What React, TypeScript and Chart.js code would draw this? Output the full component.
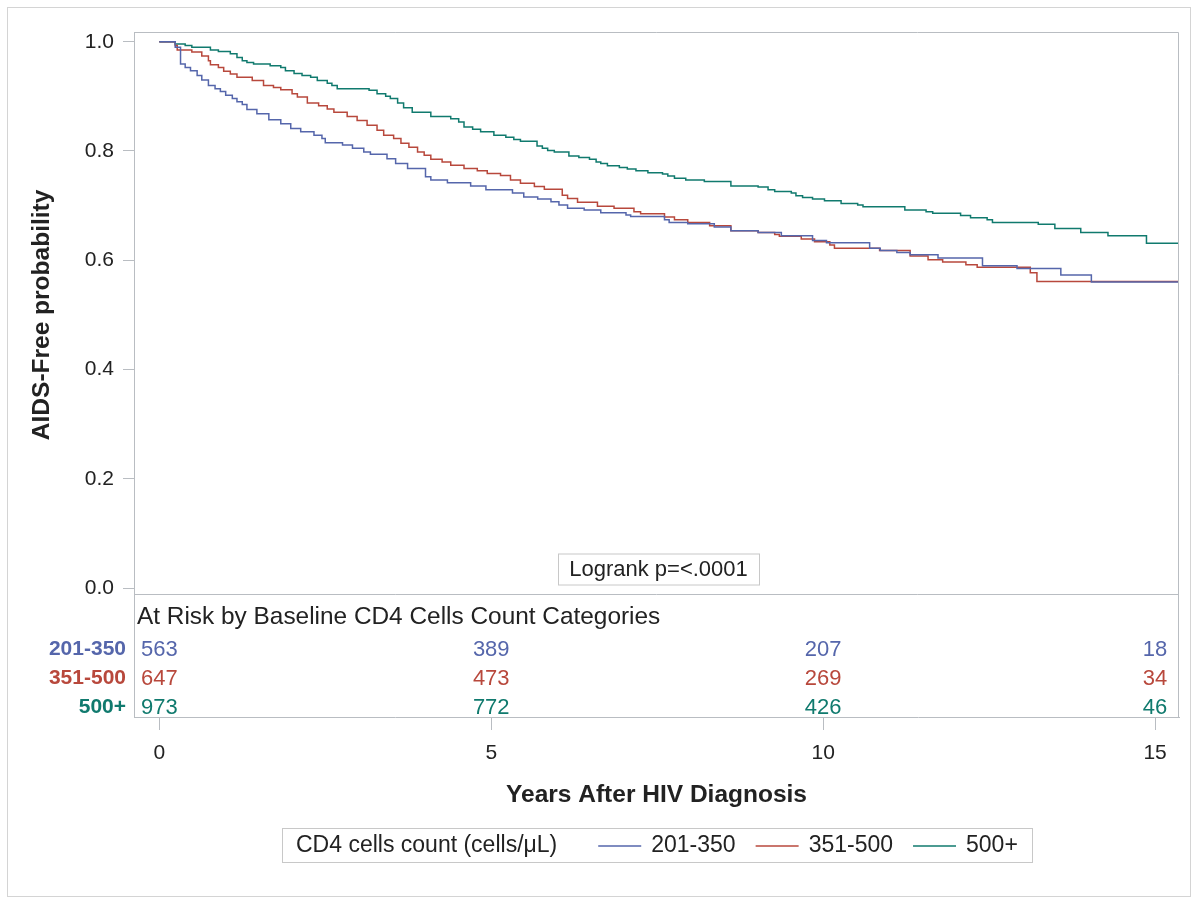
import React, { useEffect, useRef } from "react";
import { Chart, registerables } from "chart.js";

Chart.register(...registerables);

const FONT = "'Liberation Sans', Arial, Helvetica, sans-serif";
const FRAME = "#b9bdc2";
const TEXT = "#222222";

const groups = ["201-350", "351-500", "500+"];
const groupColors = ["#5566ab", "#b8483c", "#107a6e"];

// 201-350
const timesLow = [0, 0.24, 0.32, 0.39, 0.47, 0.57, 0.64, 0.74, 0.84, 0.92, 1.0, 1.1, 1.17, 1.25, 1.32, 1.47, 1.65, 1.83, 1.98, 2.13, 2.33, 2.45, 2.5, 2.76, 2.91, 3.08, 3.18, 3.43, 3.56, 3.74, 4.01, 4.09, 4.34, 4.69, 4.92, 5.32, 5.49, 5.7, 5.9, 6.02, 6.15, 6.4, 6.65, 7.03, 7.1, 7.61, 7.68, 7.96, 8.36, 8.61, 9.02, 9.37, 9.84, 10.05, 10.7, 10.86, 11.11, 11.31, 11.73, 12.4, 12.92, 13.58, 14.04, 15.36];
const survLow = [1, 0.99, 0.959, 0.953, 0.947, 0.938, 0.93, 0.92, 0.914, 0.909, 0.902, 0.896, 0.89, 0.885, 0.876, 0.868, 0.857, 0.85, 0.841, 0.835, 0.829, 0.823, 0.815, 0.811, 0.805, 0.798, 0.794, 0.786, 0.777, 0.768, 0.753, 0.747, 0.742, 0.736, 0.729, 0.723, 0.716, 0.712, 0.707, 0.701, 0.695, 0.692, 0.687, 0.683, 0.68, 0.674, 0.669, 0.667, 0.661, 0.654, 0.651, 0.645, 0.636, 0.632, 0.622, 0.618, 0.614, 0.61, 0.604, 0.59, 0.585, 0.573, 0.56, 0.56];

// 351-500
const timesMid = [0, 0.24, 0.27, 0.49, 0.64, 0.74, 0.77, 0.89, 0.97, 1.07, 1.17, 1.4, 1.57, 1.72, 1.83, 2.0, 2.08, 2.23, 2.4, 2.53, 2.63, 2.83, 2.98, 3.13, 3.28, 3.38, 3.53, 3.64, 3.76, 3.89, 3.99, 4.09, 4.26, 4.39, 4.59, 4.79, 4.94, 5.14, 5.29, 5.44, 5.65, 5.8, 6.07, 6.15, 6.3, 6.6, 6.85, 7.15, 7.25, 7.61, 7.76, 7.96, 8.29, 8.61, 9.02, 9.27, 9.34, 9.67, 9.87, 10.1, 10.17, 10.85, 11.31, 11.58, 11.8, 12.15, 12.32, 13.12, 13.22, 15.36];
const survMid = [1, 0.993, 0.985, 0.981, 0.974, 0.965, 0.958, 0.953, 0.946, 0.941, 0.935, 0.929, 0.92, 0.916, 0.912, 0.905, 0.899, 0.888, 0.883, 0.877, 0.871, 0.863, 0.856, 0.847, 0.838, 0.829, 0.823, 0.814, 0.807, 0.798, 0.792, 0.785, 0.78, 0.774, 0.768, 0.764, 0.759, 0.755, 0.747, 0.741, 0.735, 0.73, 0.719, 0.713, 0.706, 0.699, 0.695, 0.689, 0.685, 0.679, 0.674, 0.669, 0.663, 0.654, 0.651, 0.647, 0.644, 0.639, 0.634, 0.628, 0.622, 0.618, 0.608, 0.601, 0.597, 0.592, 0.587, 0.577, 0.561, 0.561];

// 500+
const timesHigh = [0, 0.24, 0.39, 0.49, 0.77, 0.89, 1.07, 1.17, 1.25, 1.32, 1.42, 1.67, 1.83, 1.9, 2.03, 2.15, 2.28, 2.38, 2.53, 2.6, 2.68, 3.16, 3.28, 3.41, 3.48, 3.59, 3.68, 3.81, 4.09, 4.39, 4.51, 4.59, 4.72, 4.84, 5.04, 5.22, 5.34, 5.44, 5.69, 5.77, 5.85, 5.95, 6.17, 6.32, 6.48, 6.58, 6.65, 6.75, 6.93, 7.05, 7.18, 7.36, 7.58, 7.66, 7.76, 7.93, 8.21, 8.61, 9.02, 9.17, 9.27, 9.52, 9.59, 9.69, 9.84, 10.02, 10.27, 10.52, 10.6, 11.23, 11.55, 11.65, 12.07, 12.22, 12.47, 12.55, 13.24, 13.49, 13.88, 14.29, 14.87, 15.36];
const survHigh = [1, 0.996, 0.993, 0.99, 0.985, 0.982, 0.978, 0.971, 0.965, 0.962, 0.959, 0.956, 0.953, 0.947, 0.942, 0.938, 0.935, 0.929, 0.924, 0.92, 0.914, 0.911, 0.905, 0.9, 0.896, 0.888, 0.879, 0.871, 0.863, 0.859, 0.853, 0.844, 0.84, 0.835, 0.829, 0.825, 0.821, 0.818, 0.809, 0.805, 0.801, 0.798, 0.791, 0.788, 0.785, 0.78, 0.777, 0.773, 0.77, 0.767, 0.764, 0.76, 0.758, 0.754, 0.75, 0.747, 0.744, 0.736, 0.734, 0.729, 0.726, 0.723, 0.718, 0.715, 0.712, 0.709, 0.704, 0.701, 0.698, 0.692, 0.689, 0.686, 0.682, 0.678, 0.674, 0.669, 0.666, 0.658, 0.651, 0.645, 0.631, 0.631];

const atRiskTimes = [0, 5, 10, 15];
const atRiskLow = [563, 389, 207, 18];
const atRiskMid = [647, 473, 269, 34];
const atRiskHigh = [973, 772, 426, 46];

const xTicks = [0, 5, 10, 15];
const yTicks = [0, 0.2, 0.4, 0.6, 0.8, 1.0];

const xTitle = "Years After HIV Diagnosis";
const yTitle = "AIDS-Free probability";
const atRiskTitle = "At Risk by Baseline CD4 Cells Count Categories";
const legendTitle = "CD4 cells count (cells/\u03bcL)";
const logrankText = "Logrank p=<.0001";

function toPoints(ts: number[], ss: number[]) {
  const n = Math.min(ts.length, ss.length);
  const out: { x: number; y: number }[] = [];
  for (let i = 0; i < n; i++) out.push({ x: ts[i], y: ss[i] });
  return out;
}

const overlayPlugin = {
  id: "overlay",
  beforeDraw(chart: any) {
    const { ctx, width, height } = chart;
    ctx.save();
    ctx.fillStyle = "#ffffff";
    ctx.fillRect(0, 0, width, height);
    ctx.strokeStyle = "#d4d4d4";
    ctx.lineWidth = 1;
    ctx.strokeRect(7.5, 7.5, 1183, 889);
    ctx.restore();
  },
  afterDraw(chart: any) {
    const { ctx, chartArea: a } = chart;
    const xs = chart.scales.x;
    const ys = chart.scales.y;
    ctx.save();
    // frame top & right
    ctx.strokeStyle = FRAME;
    ctx.lineWidth = 1;
    ctx.beginPath();
    ctx.moveTo(a.left, a.top + 0.5);
    ctx.lineTo(Math.round(a.right) - 0.5, a.top + 0.5);
    ctx.lineTo(Math.round(a.right) - 0.5, a.bottom);
    ctx.stroke();
    // separator between plot and at-risk table
    const sepY = Math.round(ys.getPixelForValue(0)) + 6.5;
    ctx.beginPath();
    ctx.moveTo(a.left, sepY);
    ctx.lineTo(a.right, sepY);
    ctx.stroke();

    // Logrank box
    ctx.font = `22px ${FONT}`;
    const lw = ctx.measureText(logrankText).width;
    const cx = (a.left + a.right) / 2 + 2;
    const bw = lw + 22;
    const bh = 31;
    const by = sepY - 41;
    ctx.fillStyle = "#ffffff";
    ctx.fillRect(cx - bw / 2, by, bw, bh);
    ctx.strokeStyle = "#c8c8c8";
    ctx.strokeRect(Math.round(cx - bw / 2) + 0.5, by + 0.5, Math.round(bw), bh);
    ctx.fillStyle = TEXT;
    ctx.textAlign = "center";
    ctx.textBaseline = "middle";
    ctx.fillText(logrankText, cx, by + bh / 2 + 1);

    // At-risk table
    ctx.textAlign = "left";
    ctx.font = `24.4px ${FONT}`;
    ctx.fillStyle = TEXT;
    ctx.fillText(atRiskTitle, a.left + 3, sepY + 23);
    const rows = [atRiskLow, atRiskMid, atRiskHigh];
    const rowY = [sepY + 55, sepY + 84, sepY + 113];
    rows.forEach((vals, r) => {
      ctx.fillStyle = groupColors[r];
      ctx.font = `22px ${FONT}`;
      ctx.textAlign = "center";
      vals.forEach((v, i) => {
        const px = xs.getPixelForValue(atRiskTimes[i]);
        ctx.fillText(String(v), px, rowY[r]);
      });
      ctx.font = `bold 21px ${FONT}`;
      ctx.textAlign = "right";
      ctx.fillText(groups[r], a.left - 8, rowY[r]);
    });

    // Y title
    ctx.save();
    ctx.translate(42, (ys.getPixelForValue(0) + ys.getPixelForValue(1)) / 2);
    ctx.rotate(-Math.PI / 2);
    ctx.font = `bold 24.5px ${FONT}`;
    ctx.fillStyle = TEXT;
    ctx.textAlign = "center";
    ctx.textBaseline = "middle";
    ctx.fillText(yTitle, 0, 0);
    ctx.restore();

    // Legend
    ctx.font = `23px ${FONT}`;
    ctx.textBaseline = "middle";
    const pad = 14;
    const gapTitle = 41;
    const lineLen = 43;
    const gapText = 10;
    const gapItem = 20;
    let total = pad + ctx.measureText(legendTitle).width + gapTitle;
    groups.forEach((g, i) => {
      total += lineLen + gapText + ctx.measureText(g).width + (i < groups.length - 1 ? gapItem : 0);
    });
    total += pad;
    const lx0 = Math.round((a.left + a.right) / 2 - total / 2);
    const ly0 = 828;
    const lh = 34;
    ctx.strokeStyle = "#c8c8c8";
    ctx.lineWidth = 1;
    ctx.strokeRect(lx0 + 0.5, ly0 + 0.5, Math.round(total), lh);
    let cur = lx0 + pad;
    const cy = ly0 + lh / 2 + 1;
    ctx.fillStyle = TEXT;
    ctx.textAlign = "left";
    ctx.fillText(legendTitle, cur, cy);
    cur += ctx.measureText(legendTitle).width + gapTitle;
    groups.forEach((g, i) => {
      ctx.strokeStyle = groupColors[i];
      ctx.lineWidth = 1.5;
      ctx.beginPath();
      ctx.moveTo(cur, cy);
      ctx.lineTo(cur + lineLen, cy);
      ctx.stroke();
      cur += lineLen + gapText;
      ctx.fillStyle = TEXT;
      ctx.fillText(g, cur, cy);
      cur += ctx.measureText(g).width + gapItem;
    });
    ctx.restore();
  },
};

export default function App() {
  const ref = useRef<HTMLCanvasElement | null>(null);
  useEffect(() => {
    if (!ref.current) return;
    const datasets = [
      toPoints(timesLow, survLow),
      toPoints(timesMid, survMid),
      toPoints(timesHigh, survHigh),
    ].map((pts, i) => ({
      label: groups[i],
      data: pts,
      borderColor: groupColors[i],
      backgroundColor: groupColors[i],
      borderWidth: 1.5,
      pointRadius: 0,
      stepped: "before" as const,
      fill: false,
    }));
    const chart = new Chart(ref.current, {
      type: "line",
      data: { datasets },
      plugins: [overlayPlugin],
      options: {
        responsive: false,
        animation: false,
        parsing: false as any,
        layout: { padding: { left: 0, top: 32, right: 16, bottom: 84 } },
        plugins: { legend: { display: false }, tooltip: { enabled: false } },
        scales: {
          x: {
            type: "linear",
            min: -0.381,
            max: 15.36,
            afterBuildTicks: (s: any) => {
              s.ticks = xTicks.map((v) => ({ value: v }));
            },
            afterFit: (s: any) => {
              s.height = 100;
            },
            grid: {
              display: true,
              drawOnChartArea: false,
              drawTicks: true,
              tickLength: 13,
              color: FRAME,
            },
            border: { display: true, color: FRAME },
            ticks: {
              color: TEXT,
              font: { family: FONT, size: 21 },
              padding: 11,
              maxRotation: 0,
              callback: (v: any) => String(v),
            },
            title: {
              display: true,
              text: xTitle,
              color: TEXT,
              font: { family: FONT, size: 24.5, weight: "bold" },
              padding: { top: 0, bottom: 7 },
            },
          },
          y: {
            type: "linear",
            min: -0.236,
            max: 1.0178,
            afterBuildTicks: (s: any) => {
              s.ticks = yTicks.map((v) => ({ value: v }));
            },
            afterFit: (s: any) => {
              s.width = 134;
            },
            grid: {
              display: true,
              drawOnChartArea: false,
              drawTicks: true,
              tickLength: 11,
              color: FRAME,
            },
            border: { display: true, color: FRAME },
            ticks: {
              color: TEXT,
              font: { family: FONT, size: 21 },
              padding: 9,
              callback: (v: any) => Number(v).toFixed(1),
            },
          },
        },
      },
    });
    return () => chart.destroy();
  }, []);
  return (
    <div style={{ position: "fixed", left: 0, top: 0, width: 1195, height: 901 }}>
      <canvas ref={ref} width={1195} height={901} style={{ display: "block" }} />
    </div>
  );
}
